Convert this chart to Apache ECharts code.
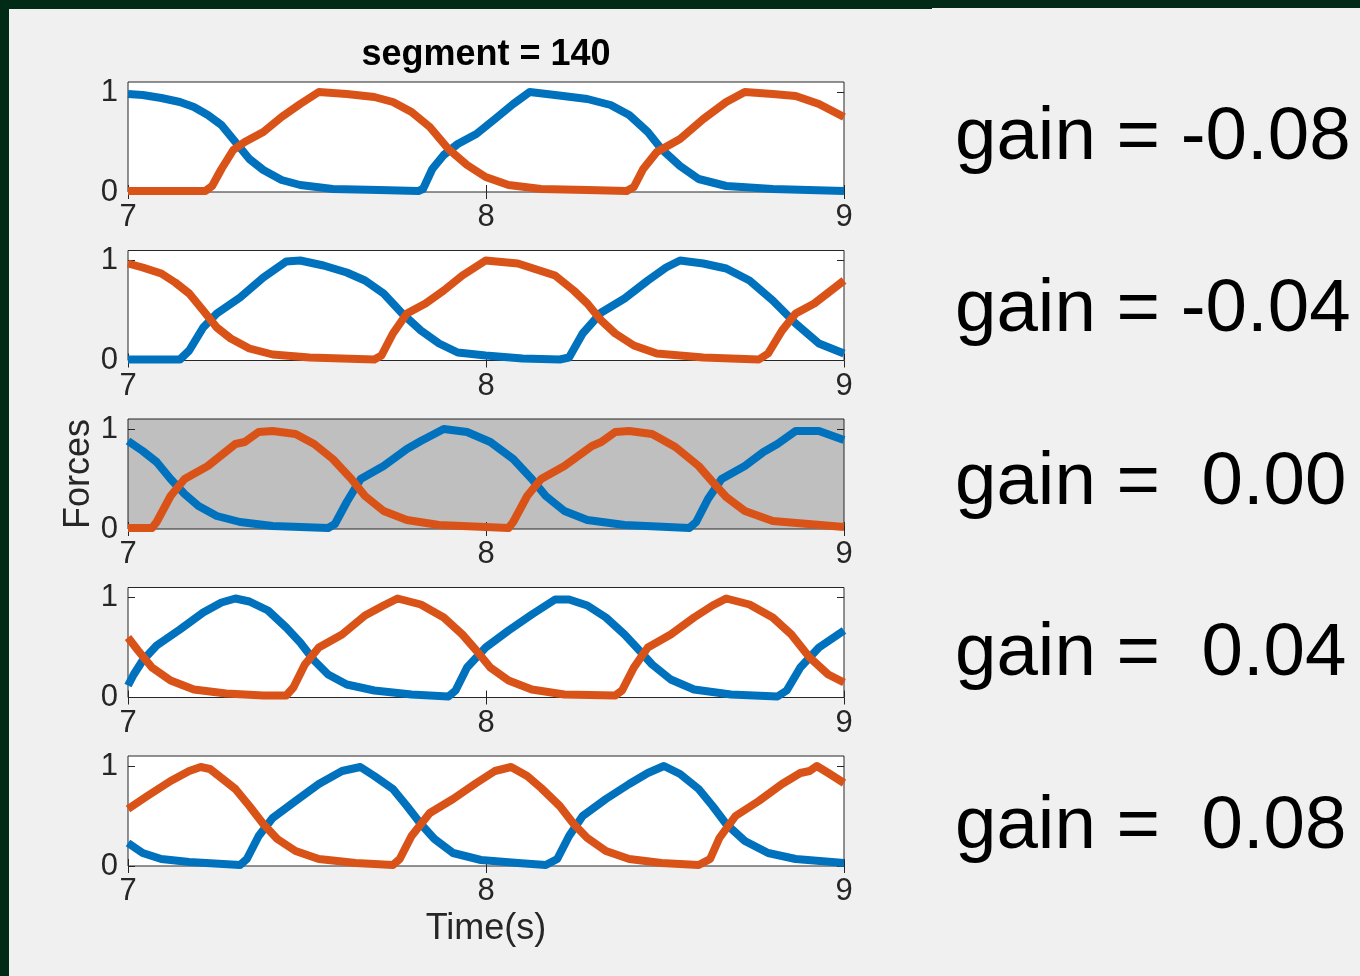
<!DOCTYPE html>
<html>
<head>
<meta charset="utf-8">
<script src="https://cdn.jsdelivr.net/npm/echarts@6/dist/echarts.min.js"></script>
<style>
  html, body { margin: 0; padding: 0; background: #f0f0f0; }
  #chart { width: 1360px; height: 976px; }
</style>
</head>
<body>
<div id="chart"></div>
<script>
// Muscle force traces over one time window, one panel per feedback gain.
const TITLE = 'segment = 140';
const X_LABEL = 'Time(s)';
const Y_LABEL = 'Forces';
const X_TICKS = [7, 8, 9];
const Y_TICKS = [0, 1];
const GAIN_LABELS = ['gain = -0.08', 'gain = -0.04', 'gain =  0.00', 'gain =  0.04', 'gain =  0.08'];

// [time (s), normalised force]
const blueM08 = [[7.000,0.98],[7.041,0.97],[7.093,0.94],[7.145,0.90],[7.184,0.85],[7.223,0.77],[7.261,0.67],[7.300,0.50],[7.339,0.33],[7.378,0.22],[7.429,0.12],[7.481,0.07],[7.572,0.03],[7.701,0.02],[7.811,0.01],[7.824,0.03],[7.850,0.23],[7.882,0.37],[7.921,0.48],[7.973,0.58],[8.025,0.73],[8.076,0.88],[8.122,1.00],[8.193,0.97],[8.283,0.93],[8.348,0.87],[8.400,0.77],[8.452,0.60],[8.490,0.43],[8.542,0.26],[8.594,0.13],[8.671,0.06],[8.801,0.03],[9.000,0.01]];
const orangeM08 = [[7.000,0.01],[7.216,0.01],[7.235,0.06],[7.261,0.23],[7.294,0.42],[7.326,0.50],[7.378,0.60],[7.429,0.75],[7.481,0.88],[7.533,1.00],[7.611,0.98],[7.688,0.95],[7.740,0.90],[7.792,0.80],[7.843,0.65],[7.895,0.43],[7.947,0.27],[7.999,0.15],[8.063,0.07],[8.154,0.03],[8.283,0.02],[8.393,0.01],[8.413,0.05],[8.439,0.23],[8.477,0.40],[8.542,0.53],[8.607,0.73],[8.671,0.90],[8.723,1.00],[8.801,0.98],[8.865,0.96],[8.930,0.88],[9.000,0.75]];

const blueM04 = [[7.000,0.01],[7.145,0.01],[7.171,0.10],[7.210,0.33],[7.248,0.47],[7.313,0.63],[7.378,0.83],[7.442,0.99],[7.481,1.00],[7.546,0.95],[7.611,0.88],[7.662,0.80],[7.714,0.67],[7.766,0.47],[7.818,0.30],[7.869,0.17],[7.921,0.08],[7.999,0.05],[8.102,0.02],[8.206,0.01],[8.232,0.03],[8.270,0.27],[8.322,0.48],[8.387,0.62],[8.452,0.80],[8.503,0.93],[8.542,1.00],[8.607,0.97],[8.671,0.92],[8.736,0.80],[8.801,0.60],[8.865,0.37],[8.930,0.17],[9.000,0.07]];
const orangeM04 = [[7.000,0.97],[7.041,0.93],[7.093,0.87],[7.132,0.78],[7.171,0.67],[7.210,0.50],[7.248,0.33],[7.287,0.22],[7.339,0.12],[7.404,0.06],[7.507,0.03],[7.688,0.01],[7.708,0.05],[7.740,0.27],[7.779,0.47],[7.831,0.57],[7.882,0.70],[7.934,0.85],[7.999,1.00],[8.089,0.97],[8.193,0.85],[8.245,0.70],[8.283,0.57],[8.322,0.40],[8.361,0.27],[8.413,0.15],[8.477,0.07],[8.607,0.03],[8.762,0.01],[8.788,0.07],[8.827,0.30],[8.865,0.47],[8.917,0.57],[9.000,0.80]];

const blue000 = [[7.000,0.88],[7.041,0.78],[7.080,0.67],[7.119,0.50],[7.158,0.35],[7.197,0.23],[7.248,0.13],[7.313,0.07],[7.404,0.03],[7.559,0.01],[7.578,0.05],[7.611,0.27],[7.650,0.50],[7.714,0.63],[7.779,0.80],[7.818,0.88],[7.882,1.00],[7.947,0.97],[8.012,0.87],[8.076,0.70],[8.128,0.50],[8.167,0.33],[8.219,0.18],[8.283,0.09],[8.387,0.04],[8.568,0.01],[8.587,0.07],[8.620,0.30],[8.658,0.50],[8.723,0.63],[8.775,0.77],[8.814,0.85],[8.865,0.98],[8.930,0.98],[9.000,0.89]];
const orange000 = [[7.000,0.01],[7.067,0.01],[7.080,0.07],[7.119,0.33],[7.158,0.50],[7.223,0.63],[7.300,0.85],[7.326,0.87],[7.365,0.97],[7.404,0.98],[7.468,0.95],[7.520,0.85],[7.572,0.70],[7.624,0.50],[7.662,0.33],[7.714,0.18],[7.779,0.09],[7.869,0.04],[8.063,0.01],[8.076,0.07],[8.115,0.33],[8.154,0.50],[8.219,0.63],[8.296,0.83],[8.322,0.87],[8.361,0.97],[8.400,0.98],[8.464,0.95],[8.529,0.82],[8.594,0.63],[8.633,0.47],[8.671,0.32],[8.723,0.18],[8.801,0.08],[9.000,0.02]];

const blueP04 = [[7.000,0.12],[7.016,0.23],[7.041,0.37],[7.080,0.52],[7.145,0.68],[7.210,0.85],[7.261,0.95],[7.300,0.99],[7.339,0.96],[7.391,0.87],[7.442,0.70],[7.481,0.55],[7.520,0.37],[7.559,0.23],[7.611,0.13],[7.688,0.07],[7.792,0.03],[7.895,0.01],[7.915,0.07],[7.947,0.30],[7.999,0.50],[8.063,0.67],[8.128,0.83],[8.193,0.98],[8.232,0.98],[8.283,0.92],[8.335,0.80],[8.387,0.63],[8.426,0.48],[8.464,0.33],[8.516,0.18],[8.581,0.08],[8.684,0.03],[8.814,0.01],[8.840,0.07],[8.878,0.30],[8.930,0.50],[9.000,0.67]];
const orangeP04 = [[7.000,0.60],[7.028,0.47],[7.067,0.30],[7.119,0.17],[7.184,0.08],[7.274,0.04],[7.378,0.02],[7.442,0.02],[7.462,0.10],[7.494,0.33],[7.533,0.50],[7.598,0.63],[7.662,0.82],[7.714,0.92],[7.753,0.99],[7.818,0.93],[7.882,0.80],[7.934,0.63],[7.973,0.47],[8.012,0.30],[8.063,0.17],[8.128,0.08],[8.219,0.03],[8.361,0.02],[8.380,0.07],[8.413,0.30],[8.452,0.50],[8.516,0.63],[8.581,0.80],[8.633,0.92],[8.671,0.99],[8.736,0.93],[8.801,0.80],[8.853,0.63],[8.904,0.40],[8.956,0.23],[9.000,0.15]];

const blueP08 = [[7.000,0.23],[7.041,0.13],[7.093,0.07],[7.171,0.04],[7.313,0.01],[7.332,0.07],[7.365,0.30],[7.404,0.48],[7.468,0.65],[7.533,0.82],[7.598,0.95],[7.649,0.99],[7.688,0.90],[7.740,0.77],[7.779,0.60],[7.818,0.42],[7.856,0.27],[7.908,0.13],[7.986,0.06],[8.089,0.03],[8.167,0.01],[8.199,0.07],[8.232,0.30],[8.270,0.50],[8.335,0.67],[8.400,0.82],[8.452,0.93],[8.497,1.00],[8.542,0.92],[8.594,0.77],[8.633,0.60],[8.671,0.42],[8.723,0.25],[8.788,0.13],[8.865,0.07],[9.000,0.03]];
const orangeP08 = [[7.000,0.57],[7.054,0.70],[7.119,0.85],[7.171,0.95],[7.203,0.99],[7.229,0.97],[7.261,0.88],[7.300,0.77],[7.339,0.60],[7.378,0.42],[7.417,0.27],[7.468,0.15],[7.533,0.07],[7.636,0.03],[7.740,0.01],[7.759,0.07],[7.792,0.30],[7.843,0.53],[7.908,0.67],[7.973,0.83],[8.025,0.95],[8.070,0.99],[8.115,0.90],[8.154,0.78],[8.206,0.60],[8.245,0.42],[8.283,0.28],[8.335,0.15],[8.400,0.07],[8.490,0.03],[8.594,0.01],[8.626,0.07],[8.652,0.28],[8.697,0.50],[8.762,0.65],[8.827,0.82],[8.878,0.93],[8.904,0.95],[8.924,1.00],[8.956,0.93],[9.000,0.83]];

const PANELS = [
  [blueM08, orangeM08],
  [blueM04, orangeM04],
  [blue000, orange000],
  [blueP04, orangeP04],
  [blueP08, orangeP08]
];

// Layout and styling
const FONT = "'Liberation Sans', Arial, Helvetica, sans-serif";
const AXIS_COLOR = '#262626';
const BLUE = '#0072bd';
const ORANGE = '#d95319';
const GRID_LEFT = 128, GRID_WIDTH = 716, GRID_HEIGHT = 110;
const GRID_TOPS = [82, 250.5, 419, 587.5, 756];
const GAIN_Y = [138, 310, 483, 654, 827];
const HIGHLIGHT = 2;

const grids = [], xAxes = [], yAxes = [], series = [];

PANELS.forEach((pair, i) => {
  grids.push({
    left: GRID_LEFT, top: GRID_TOPS[i], width: GRID_WIDTH, height: GRID_HEIGHT,
    show: true,
    backgroundColor: i === HIGHLIGHT ? '#bfbfbf' : '#ffffff',
    borderColor: AXIS_COLOR, borderWidth: 1
  });
  const tick = { show: true, inside: true, length: 7, lineStyle: { color: AXIS_COLOR, width: 1 } };
  const isLast = i === PANELS.length - 1;
  xAxes.push({
    type: 'value', gridIndex: i, position: 'bottom',
    min: X_TICKS[0], max: X_TICKS[X_TICKS.length - 1], interval: 1,
    axisLine: { show: false }, axisTick: tick, splitLine: { show: false },
    axisLabel: { fontSize: 31, color: AXIS_COLOR, fontFamily: FONT, margin: 10 },
    name: isLast ? X_LABEL : '', nameLocation: 'middle', nameGap: 45,
    nameTextStyle: { fontSize: 36, color: AXIS_COLOR, fontFamily: FONT }
  });
  xAxes.push({
    type: 'value', gridIndex: i, position: 'top',
    min: X_TICKS[0], max: X_TICKS[X_TICKS.length - 1], interval: 1,
    axisLine: { show: false }, axisTick: tick, splitLine: { show: false },
    axisLabel: { show: false }
  });
  yAxes.push({
    type: 'value', gridIndex: i, position: 'left', min: 0, max: 1.1,
    axisLine: { show: false }, splitLine: { show: false },
    axisTick: Object.assign({ customValues: Y_TICKS }, tick),
    axisLabel: { customValues: Y_TICKS, fontSize: 31, color: AXIS_COLOR, fontFamily: FONT, margin: 10 },
    name: i === HIGHLIGHT ? Y_LABEL : '', nameLocation: 'middle', nameGap: 31,
    nameMoveOverlap: false,
    nameTextStyle: { fontSize: 36, color: AXIS_COLOR, fontFamily: FONT }
  });
  yAxes.push({
    type: 'value', gridIndex: i, position: 'right', min: 0, max: 1.1,
    axisLine: { show: false }, splitLine: { show: false },
    axisTick: Object.assign({ customValues: Y_TICKS }, tick),
    axisLabel: { show: false }
  });
  [BLUE, ORANGE].forEach((color, k) => {
    series.push({
      type: 'line', xAxisIndex: 2 * i, yAxisIndex: 2 * i,
      data: pair[k], symbol: 'none', showSymbol: false, smooth: false,
      clip: false, silent: true, z: 2 + k,
      lineStyle: { color: color, width: 8, join: 'round' }
    });
  });
});

const graphics = [
  { type: 'rect', shape: { x: 0, y: 0, width: 932, height: 9 }, style: { fill: '#012b17' }, silent: true },
  { type: 'rect', shape: { x: 932, y: 0, width: 428, height: 8 }, style: { fill: '#012b17' }, silent: true },
  { type: 'rect', shape: { x: 0, y: 0, width: 9, height: 976 }, style: { fill: '#012b17' }, silent: true }
];
GAIN_LABELS.forEach((txt, i) => {
  graphics.push({
    type: 'text', x: 955, y: GAIN_Y[i], silent: true,
    style: { text: txt, fill: '#000000', font: '74.5px ' + FONT, textAlign: 'left', textVerticalAlign: 'middle' }
  });
});

const chart = echarts.init(document.getElementById('chart'), null, { renderer: 'canvas' });
chart.setOption({
  animation: false,
  backgroundColor: '#f0f0f0',
  title: {
    text: TITLE, left: 481, top: 32, textAlign: 'center',
    textStyle: { fontSize: 36, fontWeight: 'bold', color: '#000000', fontFamily: FONT }
  },
  grid: grids,
  xAxis: xAxes,
  yAxis: yAxes,
  series: series,
  graphic: graphics
});
</script>
</body>
</html>
